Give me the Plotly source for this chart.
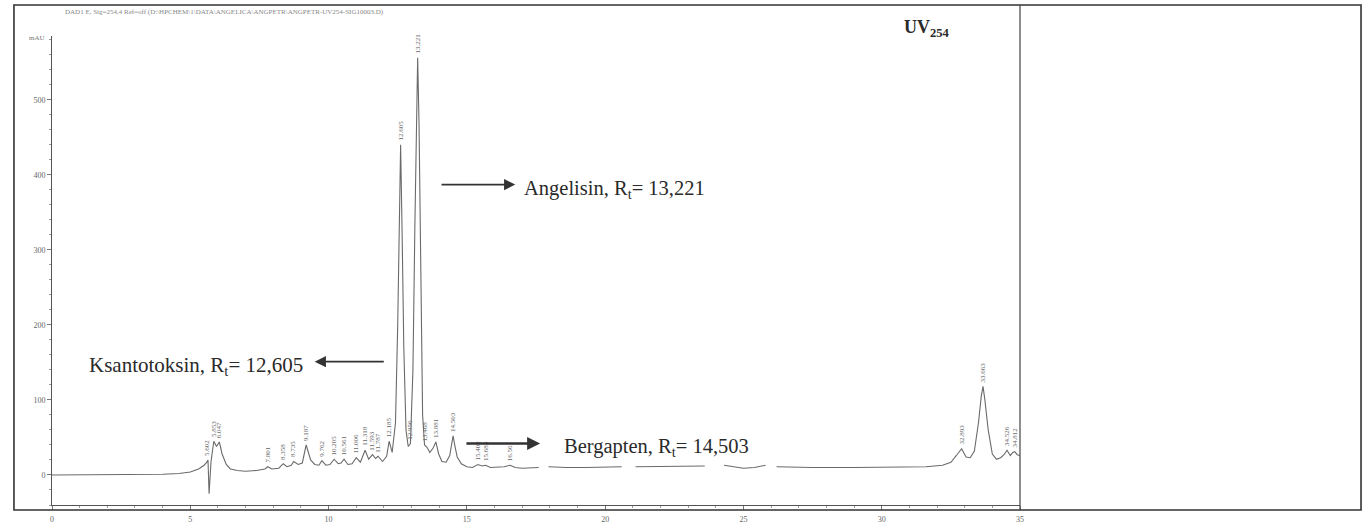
import plotly.graph_objects as go

# Chromatogram signal (retention time in min, absorbance in mAU); None = faded trace
time_min = [
    0.0, 2.0, 4.0, 4.6, 5.0, 5.3, 5.5, 5.6, 5.64, 5.68, 5.75, 5.85, 5.95, 6.05, 6.15,
    6.3, 6.45, 6.7, 7.0, 7.4, 7.7, 7.8, 7.95, 8.2, 8.36, 8.5, 8.65, 8.74, 8.9, 9.05,
    9.19, 9.35, 9.5, 9.65, 9.76, 9.9, 10.05, 10.2, 10.35, 10.45, 10.56, 10.7, 10.85,
    11.0, 11.15, 11.32, 11.45, 11.59, 11.7, 11.79, 11.95, 12.1, 12.19, 12.3, 12.42,
    12.5, 12.55, 12.605, 12.66, 12.72, 12.8, 12.88, 12.96, 13.05, 13.12, 13.17, 13.221,
    13.27, 13.33, 13.4, 13.47, 13.56, 13.66, 13.78, 13.88, 13.98, 14.1, 14.25, 14.38,
    14.45, 14.503, 14.56, 14.65, 14.8, 15.0, 15.2, 15.4, 15.55, 15.68, 15.85, 16.1,
    16.35, 16.56, 16.75, 17.0, 17.3, 17.6,
    None,
    17.95, 18.6, 19.3, 20.0, 20.6,
    None,
    21.1, 21.8, 22.6, 23.6,
    None,
    24.3, 24.6, 25.0, 25.4, 25.8,
    None,
    26.2, 27.5, 29.0, 30.5, 31.6, 32.2, 32.5, 32.7, 32.89, 33.05, 33.2, 33.35, 33.5,
    33.6, 33.663, 33.73, 33.85, 34.0, 34.15, 34.3, 34.42, 34.53, 34.65, 34.74, 34.81,
    34.9, 35.0,
]
signal_mau = [
    0, 0, 1, 2, 4, 8, 13, 17, 20, -25, 18, 45, 38, 44, 28,
    14, 8, 6, 5, 6, 8, 11, 8, 9, 15, 11, 13, 18, 14, 16,
    40, 20, 14, 13, 19, 13, 14, 21, 15, 16, 21, 14, 15,
    23, 17, 33, 21, 27, 22, 25, 18, 25, 45, 30, 70,
    200, 330, 440, 320, 170, 60, 38, 42, 140, 330, 480, 556,
    470, 250, 80, 40, 37, 30, 36, 44, 28, 18, 17, 26,
    44, 52, 40, 24, 15, 11, 10, 14, 12, 13, 10, 10,
    11, 13, 10, 9, 9, 10,
    None,
    11, 10, 10, 11, 11,
    None,
    11, 11, 12, 12,
    None,
    13, 11, 9, 10, 13,
    None,
    11, 10, 10, 10, 11, 13, 17, 26, 35, 24, 23, 32, 70,
    105, 118, 100, 60, 28, 21, 23, 27, 33, 26, 30, 31,
    27, 26,
]

# Integrator retention-time labels printed above the peaks
peak_rt = [5.602, 5.853, 6.047, 7.801, 8.358, 8.735, 9.187, 9.762, 10.205, 10.561,
           11.006, 11.318, 11.593, 11.787, 12.185, 12.605, 12.956, 13.221, 13.468,
           13.881, 14.503, 15.402, 15.683, 16.561, 32.893, 33.663, 34.526, 34.812]
peak_top = [20, 45, 44, 11, 15, 18, 40, 19, 21, 21, 23, 33, 27, 25, 45, 440, 42,
            556, 40, 44, 52, 14, 13, 13, 35, 118, 33, 31]

x_ticks = [0, 5, 10, 15, 20, 25, 30, 35]
y_ticks = [0, 100, 200, 300, 400, 500]

SERIF = "Liberation Serif"
INK = "#2a2a2a"

fig = go.Figure()
fig.add_trace(go.Scatter(
    x=time_min, y=signal_mau, mode="lines",
    line=dict(color="#6a6a6a", width=1.1), connectgaps=False,
    hoverinfo="skip", showlegend=False,
))

annotations = []
for rt, top in zip(peak_rt, peak_top):
    annotations.append(dict(
        x=rt, y=top, xref="x", yref="y", text=f"{rt:.3f}", showarrow=False,
        textangle=-90, yanchor="bottom", xanchor="center", yshift=2,
        font=dict(family=SERIF, size=7, color="#666666"),
    ))

# Compound call-outs with arrows
callouts = [
    dict(text="Angelisin, R<sub>t</sub>= 13,221", x=17.0, y=381, xanchor="left",
         tail=(14.03, 387), head=(16.75, 387), width=1.6, size=20.5),
    dict(text="Ksantotoksin, R<sub>t</sub>= 12,605", x=9.15, y=145, xanchor="right",
         tail=(12.05, 151), head=(9.5, 151), width=1.6, size=21),
    dict(text="Bergapten, R<sub>t</sub>= 14,503", x=18.45, y=37, xanchor="left",
         tail=(14.93, 42), head=(17.65, 42), width=2.6, size=20.5),
]
for c in callouts:
    annotations.append(dict(
        x=c["x"], y=c["y"], xref="x", yref="y", text=c["text"], showarrow=False,
        xanchor=c["xanchor"], yanchor="middle",
        font=dict(family=SERIF, size=c["size"], color=INK), bgcolor="white",
    ))
    annotations.append(dict(
        x=c["head"][0], y=c["head"][1], ax=c["tail"][0], ay=c["tail"][1],
        xref="x", yref="y", axref="x", ayref="y", text="", showarrow=True,
        arrowhead=2, arrowsize=1.0 if c["width"] > 2 else 1.4,
        arrowwidth=c["width"], arrowcolor="#333333",
    ))

annotations += [
    dict(x=0.878, y=1.017, xref="paper", yref="paper",
         text="<b>UV<sub>254</sub></b>", showarrow=False, xanchor="left", yanchor="middle",
         font=dict(family=SERIF, size=18, color=INK)),
    dict(x=0.011, y=1.051, xref="paper", yref="paper",
         text="DAD1 E, Sig=254,4 Ref=off (D:\\HPCHEM\\1\\DATA\\ANGELICA\\ANGPETR\\ANGPETR-UV254-SIG10003.D)",
         showarrow=False, xanchor="left", yanchor="middle",
         font=dict(family=SERIF, size=7, color="#888888")),
    dict(x=-0.005, y=0.996, xref="paper", yref="paper", text="mAU", showarrow=False,
         xanchor="right", yanchor="middle",
         font=dict(family=SERIF, size=7, color="#777777")),
]

# Page frame: outer box and the divider at the right edge of the plot
frame = dict(color="#333333", width=1.6)
shapes = [
    dict(type="rect", xref="paper", yref="paper", x0=-0.0393, x1=1.3523,
         y0=-0.0107, y1=1.066, line=frame, layer="above"),
    dict(type="line", xref="paper", yref="paper", x0=1.0, x1=1.0,
         y0=-0.0107, y1=1.066, line=dict(color="#444444", width=1.2)),
]

fig.update_layout(
    width=1363, height=527,
    margin=dict(l=52, r=343, t=36, b=22),
    paper_bgcolor="white", plot_bgcolor="white",
    annotations=annotations, shapes=shapes, showlegend=False,
    xaxis=dict(
        range=[0, 35], tickvals=x_ticks, ticktext=[str(v) for v in x_ticks],
        automargin=False,
        showgrid=False, zeroline=False, showline=True, linecolor="#555555", linewidth=1,
        ticks="outside", ticklen=4, tickcolor="#777777", ticklabelstandoff=2,
        minor=dict(dtick=1, ticks="outside", ticklen=2, tickcolor="#999999"),
        tickfont=dict(family=SERIF, size=8, color="#666666"),
    ),
    yaxis=dict(
        range=[-40, 585], tickvals=y_ticks, ticktext=[str(v) for v in y_ticks],
        automargin=False,
        showgrid=False, zeroline=False, showline=True, linecolor="#555555", linewidth=1,
        ticks="outside", ticklen=4, tickcolor="#777777",
        minor=dict(dtick=20, ticks="outside", ticklen=2, tickcolor="#999999"),
        tickfont=dict(family=SERIF, size=8, color="#666666"),
    ),
)

fig.write_html("out.html")
